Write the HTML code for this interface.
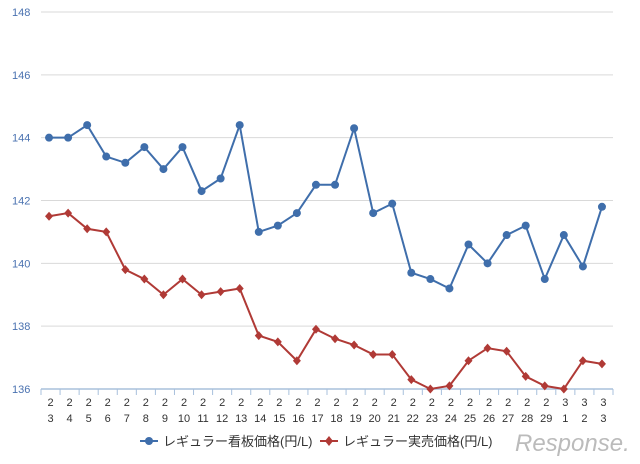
<!DOCTYPE html>
<html><head><meta charset="utf-8"><style>
body{margin:0;background:#fff;font-family:"Liberation Sans","Noto Sans CJK JP",sans-serif;}
svg{display:block}
</style></head><body>
<svg id="chart" width="640" height="464">
<g id="grid"></g><g id="axes"></g><g id="series"></g>
<g>
<g>
<line x1="140" y1="441" x2="158" y2="441" stroke="#3f6eab" stroke-width="2"/>
<circle cx="149" cy="441" r="4" fill="#3f6eab"/>
<text x="163" y="446" font-size="13" fill="#333">レギュラー看板価格(円/L)</text></g>
<g>
<line x1="320" y1="441" x2="338" y2="441" stroke="#b03a36" stroke-width="2"/>
<path d="M329 436 L333 441 L329 446 L325 441Z" fill="#b03a36"/>
<text x="343" y="446" font-size="13" fill="#333">レギュラー実売価格(円/L)</text></g>
</g>
<text x="515" y="451" font-size="24" font-style="italic" fill="#bbb">Response.</text>
</svg>
<script>
const dates=["2/3","2/4","2/5","2/6","2/7","2/8","2/9","2/10","2/11","2/12","2/13","2/14","2/15","2/16","2/17","2/18","2/19","2/20","2/21","2/22","2/23","2/24","2/25","2/26","2/27","2/28","2/29","3/1","3/2","3/3"];
const signboard=[144.0,144.0,144.4,143.4,143.2,143.7,143.0,143.7,142.3,142.7,144.4,141.0,141.2,141.6,142.5,142.5,144.3,141.6,141.9,139.7,139.5,139.2,140.6,140.0,140.9,141.2,139.5,140.9,139.9,141.8];
const actual=[141.5,141.6,141.1,141.0,139.8,139.5,139.0,139.5,139.0,139.1,139.2,137.7,137.5,136.9,137.9,137.6,137.4,137.1,137.1,136.3,136.0,136.1,136.9,137.3,137.2,136.4,136.1,136.0,136.9,136.8];
const yTicks=[136,138,140,142,144,146,148];
const NS="http://www.w3.org/2000/svg";
const X0=41,X1=613,Y0=389,Y1=12,YMIN=136,YMAX=148;
const bw=(X1-X0)/dates.length;
const x=i=>X0+bw*(i+0.5)-1.5;
const y=v=>Y0-(v-YMIN)/(YMAX-YMIN)*(Y0-Y1);
function mk(t,a,p){const e=document.createElementNS(NS,t);for(const k in a)e.setAttribute(k,a[k]);p.appendChild(e);return e;}
const grid=document.getElementById('grid'),axes=document.getElementById('axes'),ser=document.getElementById('series');
yTicks.forEach(v=>{
 if(v!==YMIN){const l=mk('line',{x1:X0,x2:X1,y1:y(v),y2:y(v),stroke:'#d9d9d9','stroke-width':1},grid);
 
 }
 const t=mk('text',{x:12,y:y(v)+4,'font-size':11,fill:'#4a72b0'},axes);t.textContent=v;
 
 
});
const ax=mk('line',{x1:X0,x2:X1,y1:Y0,y2:Y0,stroke:'#a8c0dc','stroke-width':1.5},axes);


for(let i=0;i<=dates.length;i++){const tx=X0+bw*i;mk('line',{x1:tx,x2:tx,y1:Y0,y2:Y0+6,stroke:'#a8c0dc'},axes);}
dates.forEach((d,i)=>{const [m,dd]=d.split('/');
 const g=mk('text',{'font-size':11,fill:'#333','text-anchor':'middle'},axes);
 
 
 mk('tspan',{x:X0+bw*(i+0.5),y:406},g).textContent=m;
 mk('tspan',{x:X0+bw*(i+0.5),y:422},g).textContent=dd;
});
function draw(vals,color,name,diamond){
 const p=mk('polyline',{points:vals.map((v,i)=>x(i)+','+y(v)).join(' '),fill:'none',stroke:color,'stroke-width':2},ser);
 
 
 vals.forEach((v,i)=>{let m;
  if(diamond)m=mk('path',{d:`M${x(i)} ${y(v)-4.5}L${x(i)+4} ${y(v)}L${x(i)} ${y(v)+4.5}L${x(i)-4} ${y(v)}Z`,fill:color},ser);
  else m=mk('circle',{cx:x(i),cy:y(v),r:4,fill:color},ser);
  
  
 });
}
draw(signboard,'#3f6eab','signboard',false);
draw(actual,'#b03a36','actual',true);
</script>
</body></html>
